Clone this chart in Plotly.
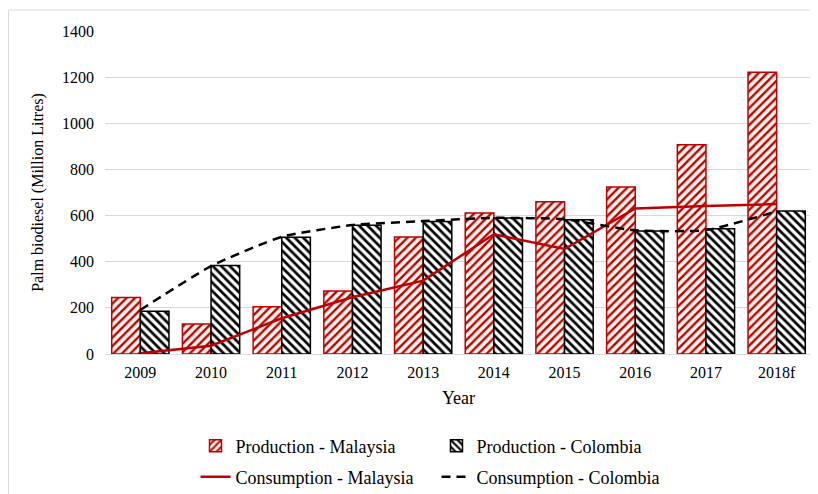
import plotly.graph_objects as go

years = ["2009", "2010", "2011", "2012", "2013", "2014", "2015", "2016", "2017", "2018f"]
prod_malaysia = [245, 130, 205, 273, 507, 611, 660, 724, 907, 1221]
prod_colombia = [185, 384, 506, 558, 574, 589, 582, 533, 543, 620]
cons_malaysia = [3, 36, 155, 246, 318, 519, 455, 631, 641, 650]
cons_colombia = [191, 381, 508, 559, 576, 590, 584, 536, 537, 618]
y_ticks = [0, 200, 400, 600, 800, 1000, 1200, 1400]

FONT = "Liberation Serif, Times New Roman, serif"
RED = "#c00000"

fig = go.Figure()
fig.add_trace(go.Bar(
    x=years, y=prod_malaysia, name="Production - Malaysia",
    marker=dict(color="#fff8f0", line=dict(color=RED, width=1.5),
                pattern=dict(shape="/", fgcolor=RED, bgcolor="#fff8f0", fgopacity=1,
                             size=6, solidity=0.4)),
    legend="legend",
))
fig.add_trace(go.Bar(
    x=years, y=prod_colombia, name="Production - Colombia",
    marker=dict(color="white", line=dict(color="black", width=1.5),
                pattern=dict(shape="\\", fgcolor="black", bgcolor="white", fgopacity=1,
                             size=6, solidity=0.45)),
    legend="legend",
))
fig.add_trace(go.Scatter(
    x=years, y=cons_malaysia, name="Consumption - Malaysia", mode="lines",
    line=dict(color=RED, width=2.5), legend="legend2",
))
fig.add_trace(go.Scatter(
    x=years, y=cons_colombia, name="Consumption - Colombia", mode="lines",
    line=dict(color="black", width=2.5, dash="9px,6px", shape="spline", smoothing=0.5),
    legend="legend2",
))

legend_common = dict(orientation="h", xanchor="left", yanchor="middle", x=0.128,
                     entrywidth=196, entrywidthmode="pixels",
                     font=dict(family=FONT, size=18, color="black"),
                     bgcolor="rgba(0,0,0,0)", tracegroupgap=0)

fig.update_layout(
    width=810, height=486,
    margin=dict(l=97, r=6, t=23, b=140, autoexpand=False),
    paper_bgcolor="white", plot_bgcolor="white",
    barmode="group", bargap=0.19, bargroupgap=0,
    font=dict(family=FONT, size=16, color="black"),
    legend=dict(legend_common, y=-0.285),
    legend2=dict(legend_common, y=-0.381),
    xaxis=dict(
        title=dict(text="Year", font=dict(family=FONT, size=18), standoff=11),
        showgrid=False, showline=True, linecolor="#d9d9d9", linewidth=1,
        ticks="", tickfont=dict(family=FONT, size=16), ticklabelstandoff=4,
    ),
    yaxis=dict(
        title=dict(text="Palm biodiesel (Million Litres)", font=dict(family=FONT, size=16), standoff=14),
        range=[0, 1400], tickvals=y_ticks, showgrid=True, gridcolor="#d9d9d9", gridwidth=1,
        zeroline=False, showline=False, ticks="", tickfont=dict(family=FONT, size=16),
        ticklabelstandoff=10,
    ),
    shapes=[dict(type="rect", xref="paper", yref="paper", x0=-0.1365, x1=1.02, y0=-0.45, y1=1.065,
                 line=dict(color="#d9d9d9", width=1), layer="below")],
)

fig.write_html("out.html")
